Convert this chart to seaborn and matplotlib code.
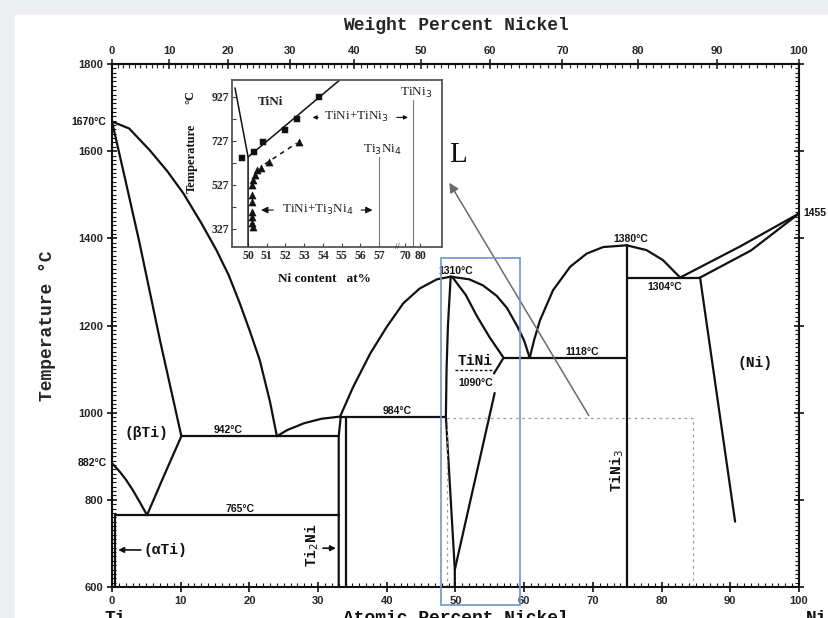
import numpy as np
import pandas as pd
import matplotlib
matplotlib.use("Agg")
import matplotlib.pyplot as plt
import seaborn as sns
from matplotlib.patches import Rectangle
from matplotlib.ticker import MultipleLocator, FixedLocator

sns.set_theme(style="ticks")
plt.rcParams.update({
    'font.family': ['DejaVu Sans'],
    'axes.linewidth': 1.5,
    'axes.edgecolor': '#111111',
})

MONO = 'Liberation Mono'
SERIF = 'Liberation Serif'
SANS = 'Liberation Sans'
INK = '#111111'

# ---- main diagram: atomic % Ni vs temperature (deg C)
liq_ti_x = [0, 2.5, 5.5, 8, 10.4, 13, 15.2, 17, 18.6, 20, 21.5, 23, 24]
liq_ti_t = [1668, 1652, 1602, 1555, 1503, 1435, 1373, 1315, 1251, 1190, 1121, 1025, 946]

sol_beta_x = [0, 2, 4, 7, 10.1]
sol_beta_t = [1668, 1530, 1390, 1165, 946]

transus_x = [0, 1, 2, 3, 4, 5.1]
transus_t = [884, 867, 847, 823, 796, 765]

beta_right_x = [5.1, 7.5, 10.1]
beta_right_t = [765, 853, 946]

eut_liq_x = [24, 25.5, 28, 30.5, 33.2]
eut_liq_t = [946, 960, 976, 986, 991]

liq_mid_x = [33.2, 35.1, 37.6, 40.0, 42.4, 44.8, 47.3, 49.3]
liq_mid_t = [991, 1059, 1136, 1197, 1251, 1285, 1306, 1312]

tini_left_x = [49.3, 48.9, 48.7, 48.6, 49.9, 49.9]
tini_left_t = [1312, 1200, 1100, 991, 640, 600]

tini_right_up_x = [49.5, 51.5, 53.1, 55.0, 57.0, 55.6]
tini_right_up_t = [1312, 1270, 1222, 1172, 1126, 1090]
tini_right_lo_x = [55.7, 49.9]
tini_right_lo_t = [1045, 640]

liq_tini_x = [49.3, 52, 54, 56, 57.5, 59, 60, 60.8]
liq_tini_t = [1312, 1306, 1292, 1268, 1240, 1198, 1165, 1126]

dome_x = [60.8, 61.5, 62.3, 64.2, 66.7, 69.1, 71.5, 74.9, 77.8, 80.2, 82.7]
dome_t = [1126, 1170, 1212, 1281, 1335, 1365, 1380, 1384, 1373, 1350, 1310]

ni_liq_x = [82.7, 91.5, 100]
ni_liq_t = [1310, 1382, 1457]
ni_sol_x = [85.6, 93, 100]
ni_sol_t = [1310, 1372, 1457]
ni_solvus_x = [85.6, 90.7]
ni_solvus_t = [1310, 750]

# isotherms and line compounds: (x_start, x_end, temperature)
isotherms = [(10.1, 33.0, 946), (0.4, 33.0, 765), (33.2, 48.6, 991),
             (57.0, 75.0, 1126), (75.0, 85.6, 1310)]
verticals = [(0.4, 600, 765), (34.0, 600, 991), (75.0, 600, 1384)]
ti2ni_left_x = [33.0, 33.0, 33.3]
ti2ni_left_t = [600, 946, 991]

# ---- inset: TiNi solvus detail (at% Ni, deg C)
sq_x = [49.7, 50.3, 50.8, 52.0, 52.6, 53.8]
sq_t = [646, 676, 721, 775, 823, 923]
tri_x = [52.7, 51.1, 50.7, 50.46, 50.37, 50.28, 50.2, 50.2, 50.2, 50.2, 50.2, 50.2, 50.28]
tri_t = [721, 631, 600, 593, 570, 547, 525, 479, 449, 403, 381, 351, 335]
solvus_in_x = [50.0, 54.9]
solvus_in_t = [652, 1002]
left_in_x = [49.3, 50.0, 50.0]
left_in_t = [966, 652, 243]
dash_in_x = [50.9, 52.6]
dash_in_t = [620, 715]
in_ticks_at = [50, 51, 52, 53, 54, 55, 56, 57, 70, 80]
in_yticks = [327, 527, 727, 927]


def inset_u(at):
    # broken inset axis: 50-57 at% linear, 70-80 compressed after the break
    at = np.asarray(at, dtype=float)
    return np.where(at <= 60, at, 58.4 + (at - 70) * 0.08)


def at2wt(a):
    a = np.asarray(a, dtype=float)
    return 100 * a * 58.693 / (a * 58.693 + (100 - a) * 47.867)


def wt2at(w):
    w = np.asarray(w, dtype=float)
    return 100 * (w / 58.693) / (w / 58.693 + (100 - w) / 47.867)


def curve(ax, x, y, color=INK, lw=1.6, **kw):
    sns.lineplot(x=x, y=y, ax=ax, sort=False, estimator=None,
                 color=color, lw=lw, **kw)


fig = plt.figure(figsize=(8.29, 6.18), dpi=100, facecolor='#eceef1')
fig.patches.append(Rectangle((15 / 829, 0), 1, 1 - 15 / 618,
                             transform=fig.transFigure, color='white', zorder=-10))

ax = fig.add_axes([112 / 829, 1 - 587 / 618, 687 / 829, 523 / 618])
ax.set_facecolor('none')
ax.set_xlim(0, 100)
ax.set_ylim(600, 1800)

for xs, ts in [(liq_ti_x, liq_ti_t), (sol_beta_x, sol_beta_t), (transus_x, transus_t),
               (beta_right_x, beta_right_t), (eut_liq_x, eut_liq_t), (liq_mid_x, liq_mid_t),
               (tini_left_x, tini_left_t), (tini_right_up_x, tini_right_up_t),
               (tini_right_lo_x, tini_right_lo_t), (liq_tini_x, liq_tini_t),
               (dome_x, dome_t), (ni_liq_x, ni_liq_t), (ni_sol_x, ni_sol_t),
               (ni_solvus_x, ni_solvus_t), (ti2ni_left_x, ti2ni_left_t)]:
    curve(ax, xs, ts)
for x0, x1, t in isotherms:
    curve(ax, [x0, x1], [t, t])
for x, t0, t1 in verticals:
    curve(ax, [x, x], [t0, t1])

# dotted frame, blue highlight box and pointer arrow
curve(ax, [48.7, 48.7, 84.6, 84.6], [600, 988, 988, 600], color='#9a9a9a', lw=0.9, linestyle=(0, (2, 3)))
ax.add_patch(Rectangle((47.9, 559), 11.5, 796, fill=False, ec='#7096c8', lw=1.2, clip_on=False, zorder=5))
ax.annotate('', xy=(48.9, 1533), xytext=(69.6, 988),
            arrowprops=dict(arrowstyle='-|>', color='#6b6b6b', lw=1.1, mutation_scale=14))

# ticks
ax.xaxis.set_major_locator(MultipleLocator(10))
ax.xaxis.set_minor_locator(MultipleLocator(1))
ax.yaxis.set_major_locator(MultipleLocator(200))
ax.yaxis.set_minor_locator(MultipleLocator(10))
ax.tick_params(which='major', direction='inout', length=7, width=1.2, color=INK,
               labelsize=8, pad=3, right=True, top=False)
ax.tick_params(which='minor', direction='in', length=3, width=0.8, color=INK, right=True, top=False)
for lab in ax.get_xticklabels() + ax.get_yticklabels():
    lab.set_fontweight('bold')
    lab.set_family(SANS)

sec = ax.secondary_xaxis('top', functions=(at2wt, wt2at))
sec.xaxis.set_major_locator(FixedLocator(np.arange(0, 101, 10)))
sec.xaxis.set_minor_locator(FixedLocator(np.arange(0, 101, 1)))
sec.tick_params(which='major', direction='inout', length=7, width=1.2, labelsize=8, pad=2)
sec.tick_params(which='minor', direction='in', length=3, width=0.8)
for lab in sec.get_xticklabels():
    lab.set_fontweight('bold')
    lab.set_family(SANS)
sec.set_xlabel('Weight Percent Nickel', family=MONO, fontweight='bold', fontsize=13, labelpad=12)
ax.set_ylabel('Temperature °C', family=MONO, fontweight='bold', fontsize=13, labelpad=16)

lab_kw = dict(family=SANS, fontweight='bold', fontsize=7.5, color=INK)
ax.text(-0.8, 1668, '1670°C', ha='right', va='center', **lab_kw)
ax.text(-0.8, 884, '882°C', ha='right', va='center', **lab_kw)
ax.text(100.7, 1457, '1455', ha='left', va='center', clip_on=False, **lab_kw)
ax.text(16.9, 948, '942°C', ha='center', va='bottom', **lab_kw)
ax.text(18.6, 767, '765°C', ha='center', va='bottom', **lab_kw)
ax.text(41.5, 993, '984°C', ha='center', va='bottom', **lab_kw)
ax.text(50.1, 1314, '1310°C', ha='center', va='bottom', **lab_kw)
ax.text(53.0, 1068, '1090°C', ha='center', va='center', **lab_kw)
ax.text(68.5, 1127, '1118°C', ha='center', va='bottom', **lab_kw)
ax.text(75.5, 1386, '1380°C', ha='center', va='bottom', **lab_kw)
ax.text(80.5, 1300, '1304°C', ha='center', va='top', **lab_kw)

ph_kw = dict(family=MONO, fontweight='bold', fontsize=10.5, color=INK)
ax.text(4.95, 953, '(βTi)', ha='center', va='center', **ph_kw)
ax.text(4.6, 685, '(αTi)', ha='left', va='center', **ph_kw)
ax.annotate('', xy=(0.5, 685), xytext=(4.6, 685),
            arrowprops=dict(arrowstyle='-|>', color=INK, lw=1.2, mutation_scale=8))
ax.text(29.1, 696, 'Ti$_2$Ni', rotation=90, ha='center', va='center', **ph_kw)
ax.annotate('', xy=(33.0, 689), xytext=(30.3, 689),
            arrowprops=dict(arrowstyle='-|>', color=INK, lw=1.2, mutation_scale=8))
ax.text(52.8, 1118, 'TiNi', ha='center', va='center', **ph_kw)
curve(ax, [50.0, 55.6], [1097, 1097], lw=1.0, linestyle=(0, (2, 1.5)))
ax.text(93.6, 1114, '(Ni)', ha='center', va='center', **ph_kw)
ax.text(73.5, 868, 'TiNi$_3$', rotation=90, ha='center', va='center', **ph_kw)
ax.text(50.4, 1591, 'L', ha='center', va='center', family=SERIF, fontsize=21, color=INK)

ax.text(50, 547, 'Atomic Percent Nickel', ha='center', va='top', clip_on=False,
        family=MONO, fontweight='bold', fontsize=13, color=INK)
ax.text(0.5, 547, 'Ti', ha='center', va='top', clip_on=False,
        family=MONO, fontweight='bold', fontsize=13, color=INK)
ax.text(102.5, 547, 'Ni', ha='center', va='top', clip_on=False,
        family=MONO, fontweight='bold', fontsize=13, color=INK)

# ---- inset
axi = fig.add_axes([232 / 829, 1 - 247 / 618, 210 / 829, 167 / 618])
axi.set_facecolor('white')
axi.set_xlim(49.14, 60.37)
axi.set_ylim(243, 1002)
for sp in axi.spines.values():
    sp.set_color('#555555')
    sp.set_linewidth(1.3)

curve(axi, inset_u(left_in_x), left_in_t, lw=1.1)
curve(axi, inset_u(solvus_in_x), solvus_in_t, lw=1.1)
curve(axi, inset_u(dash_in_x), dash_in_t, lw=1.1, linestyle=(0, (3, 3)))
curve(axi, inset_u([57, 57]), [653, 243], color='#777777', lw=0.8)
curve(axi, inset_u([75, 75]), [911, 243], color='#777777', lw=0.8)
sns.scatterplot(x=inset_u(sq_x), y=sq_t, ax=axi, marker='s', s=16, color=INK, edgecolor=INK, zorder=4)
sns.scatterplot(x=inset_u(tri_x), y=tri_t, ax=axi, marker='^', s=26, color=INK, edgecolor=INK, zorder=4)

axi.xaxis.set_major_locator(FixedLocator(inset_u(in_ticks_at)))
axi.set_xticklabels([str(v) for v in in_ticks_at])
axi.yaxis.set_major_locator(FixedLocator(in_yticks))
axi.yaxis.set_minor_locator(FixedLocator([427, 627, 827]))
axi.tick_params(which='both', direction='in', length=3, width=0.8, color='#444444',
                labelsize=8.5, pad=2)
for lab in axi.get_xticklabels() + axi.get_yticklabels():
    lab.set_family(SERIF)
    lab.set_fontweight('bold')
axi.text(58.0, 243, '//', ha='center', va='center', fontsize=6, family=SERIF, color=INK, clip_on=False)

in_kw = dict(family=SERIF, fontsize=9.5, color='#222222')
axi.text(51.2, 903, 'TiNi', ha='center', va='center', fontweight='bold', **in_kw)
axi.text(55.8, 832, 'TiNi+TiNi$_3$', ha='center', va='center', **in_kw)
axi.annotate('', xy=(53.3, 832), xytext=(53.9, 832),
             arrowprops=dict(arrowstyle='-|>', color=INK, lw=0.8, mutation_scale=6))
axi.annotate('', xy=(58.7, 832), xytext=(57.8, 832),
             arrowprops=dict(arrowstyle='-|>', color=INK, lw=0.8, mutation_scale=6))
axi.text(57.2, 684, 'Ti$_3$Ni$_4$', ha='center', va='center', **in_kw)
axi.text(59.0, 943, 'TiNi$_3$', ha='center', va='center', **in_kw)
axi.text(53.7, 411, 'TiNi+Ti$_3$Ni$_4$', ha='center', va='center', **in_kw)
axi.annotate('', xy=(50.55, 411), xytext=(51.5, 411),
             arrowprops=dict(arrowstyle='-|>', color=INK, lw=0.8, mutation_scale=10))
axi.annotate('', xy=(56.8, 411), xytext=(55.9, 411),
             arrowprops=dict(arrowstyle='-|>', color=INK, lw=0.8, mutation_scale=10))
axi.text(-0.19, 0.53, 'Temperature', transform=axi.transAxes, rotation=90,
         ha='center', va='center', family=SERIF, fontweight='bold', fontsize=9, color=INK)
axi.text(-0.2, 0.9, '°C', transform=axi.transAxes, rotation=90,
         ha='center', va='center', family=SERIF, fontweight='bold', fontsize=9, color=INK)
axi.text(0.44, -0.19, 'Ni content   at%', transform=axi.transAxes,
         ha='center', va='center', family=SERIF, fontweight='bold', fontsize=9.5, color=INK)
axi.set_xlabel('')
axi.set_ylabel('')

fig.savefig('out.png', dpi=100, facecolor=fig.get_facecolor())
